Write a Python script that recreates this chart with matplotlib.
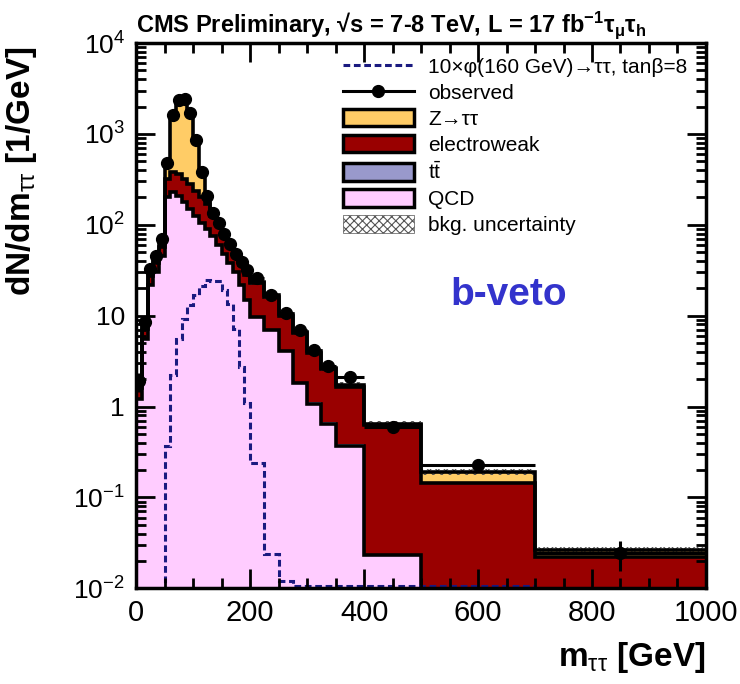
import numpy as np
import matplotlib
matplotlib.use("Agg")
import matplotlib.pyplot as plt
from matplotlib.patches import Patch
from matplotlib.lines import Line2D

plt.rcParams['font.family'] = ['Liberation Sans', 'DejaVu Sans']
plt.rcParams['mathtext.fontset'] = 'custom'
plt.rcParams['mathtext.rm'] = 'Liberation Sans'
plt.rcParams['mathtext.it'] = 'Liberation Sans:italic'
plt.rcParams['mathtext.bf'] = 'Liberation Sans:bold'
plt.rcParams['hatch.linewidth'] = 0.8

# ---------------- data ----------------
bin_edges = [0, 10, 20, 30, 40, 50, 60, 70, 80, 90, 100, 110, 120, 130, 140, 150,
             160, 170, 180, 190, 200, 225, 250, 275, 300, 325, 350, 400, 500, 700, 1000]

observed = [1.9, 8.5, 33, 45, 70, 480, 1600, 2350, 2400, 1700, 850, 380, 210, 135, 105,
            80, 62, 48, 39, 32, 26, 17, 10.6, 6.9, 4.2, 2.8, 2.1, 0.6, 0.23, 0.0245]
observed_err = [0.44, 0.92, 1.8, 2.1, 2.6, 6.9, 12.6, 15.3, 15.5, 13, 9.2, 6.2, 4.6, 3.7, 3.2,
                2.8, 2.5, 2.2, 2.0, 1.8, 1.0, 0.82, 0.65, 0.52, 0.41, 0.33, 0.2, 0.077, 0.034, 0.009]

qcd = [1.2, 5.5, 22, 30, 45, 200, 230, 210, 180, 150, 125, 105, 90, 75, 60,
       48, 38, 30, 22, 15, 9.6, 6.9, 4.1, 1.8, 1.07, 0.65, 0.37, 0.023, 0.0, 0.0]
ttbar = [0.01, 0.05, 0.2, 0.3, 0.5, 1.0, 1.5, 1.5, 1.5, 1.5, 1.4, 1.3, 1.2, 1.0, 0.8,
         0.7, 0.6, 0.5, 0.4, 0.35, 0.25, 0.18, 0.12, 0.08, 0.05, 0.03, 0.02, 0.0005, 0.0003, 0.0001]
electroweak = [0.4, 1.5, 5, 8, 12, 120, 150, 150, 140, 130, 110, 95, 80, 50, 38,
               28, 21, 16, 14, 13, 13, 9, 5.8, 4.6, 2.8, 1.9, 1.25, 0.6, 0.145, 0.022]
ztautau = [0.2, 1.0, 4, 6, 12, 150, 1200, 2000, 2100, 1400, 600, 180, 40, 12, 6,
           3, 2, 1.5, 1.2, 1.0, 0.8, 0.6, 0.3, 0.2, 0.12, 0.08, 0.1, 0.02, 0.045, 0.004]
bkg_rel_unc = [0.08] * 30

signal_10x = [0.005, 0.005, 0.005, 0.005, 0.005, 0.37, 2.2, 5.6, 9.3, 13, 17, 21, 24.5, 24, 24,
              19, 13.5, 7.2, 2.7, 1.1, 0.24, 0.024, 0.012, 0.0105, 0.0105, 0.0105, 0.0105,
              0.0105, 0.0105, 0.005]

# ---------------- plot ----------------
edges = np.array(bin_edges, float)
centers = 0.5 * (edges[1:] + edges[:-1])
halfw = 0.5 * (edges[1:] - edges[:-1])
floor = 1e-4

c1 = np.maximum(np.array(qcd), floor)
c2 = c1 + np.array(ttbar)
c3 = c2 + np.array(electroweak)
c4 = c3 + np.array(ztautau)

col_qcd = '#ffccff'
col_tt = '#9999cc'
col_ew = '#990000'
col_z = '#ffcc66'

fig = plt.figure(figsize=(7.4, 6.84), dpi=100)
ax = fig.add_axes([0.184, 0.140, 0.770, 0.797])
ax.set_yscale('log')

ax.stairs(c1, edges, baseline=floor, fill=True, color=col_qcd, lw=0)
ax.stairs(c2, edges, baseline=c1, fill=True, color=col_tt, lw=0)
ax.stairs(c3, edges, baseline=c2, fill=True, color=col_ew, lw=0)
ax.stairs(c4, edges, baseline=c3, fill=True, color=col_z, lw=0)
unc = np.array(bkg_rel_unc)
ax.stairs(c4 * (1 + unc), edges, baseline=c4 * (1 - unc), fill=True,
          facecolor='none', edgecolor='#555555', hatch='xxxx', lw=0)
for c in (c1, c3, c4):
    ax.stairs(c, edges, baseline=None, color='black', lw=2.6)

ax.stairs(signal_10x, edges, baseline=None, color='#1a1a80', lw=2.2, ls=(0, (2.2, 1.2)))

ax.errorbar(centers, observed, yerr=observed_err, xerr=halfw, fmt='o', color='black',
            ms=8.5, elinewidth=2.2, capsize=0, zorder=5)

ax.set_xlim(0, 1000)
ax.set_ylim(1e-2, 1e4)
ax.set_xticks([0, 200, 400, 600, 800, 1000])
ax.set_xticks(np.arange(0, 1001, 50), minor=True)
ax.set_yticks([1e-2, 1e-1, 1, 10, 1e2, 1e3, 1e4])
ax.set_yticklabels(['$10^{-2}$', '$10^{-1}$', '1', '10', '$10^{2}$', '$10^{3}$', '$10^{4}$'])
ax.tick_params(axis='both', which='both', direction='in', top=True, right=True, width=2)
ax.tick_params(axis='both', which='major', length=14)
ax.tick_params(axis='both', which='minor', length=7)
ax.tick_params(axis='x', labelsize=21, pad=8)
ax.tick_params(axis='y', labelsize=19, pad=8)
for s in ax.spines.values():
    s.set_linewidth(2.5)

ax.set_ylabel('dN/dm$_{\\mathrm{ττ}}$ [1/GeV]', fontsize=24, fontweight='bold')
ax.yaxis.set_label_coords(-0.17, 0.765)
ax.set_xlabel('m$_{\\mathrm{ττ}}$ [GeV]', fontsize=24, fontweight='bold')
ax.xaxis.set_label_coords(1.0, -0.095)
ax.xaxis.label.set_horizontalalignment('right')

fig.text(0.184, 0.963, 'CMS Preliminary, √s = 7-8 TeV, L = 17 fb$^{\\mathbf{-1}}$$\\mathbf{τ_{μ}τ_{h}}$',
         fontsize=17, fontweight='bold', va='center', ha='left')

ax.text(0.653, 0.538, 'b-veto', transform=ax.transAxes, fontsize=28, fontweight='bold',
        color='#3333cc', ha='center', va='center')

handles = [
    Line2D([], [], color='#1a1a80', lw=2.2, ls=(0, (2.2, 1.2))),
    Line2D([], [], color='black', lw=2.2, marker='o', ms=8.5),
    Patch(facecolor=col_z, edgecolor='black', lw=2.5),
    Patch(facecolor=col_ew, edgecolor='black', lw=2.5),
    Patch(facecolor=col_tt, edgecolor='black', lw=2.5),
    Patch(facecolor=col_qcd, edgecolor='black', lw=2.5),
    Patch(facecolor='white', edgecolor='#555555', hatch='xxxx', lw=0.5),
]
labels = ['10×φ(160 GeV)→ττ, tanβ=8', 'observed', 'Z→ττ', 'electroweak', 't$\\bar{\\mathrm{t}}$',
          'QCD', 'bkg. uncertainty']
ax.legend(handles, labels, loc='upper left', bbox_to_anchor=(0.348, 0.99), frameon=False,
          fontsize=15, handlelength=3.4, handleheight=0.9, labelspacing=0.3,
          handletextpad=0.7, borderaxespad=0)

fig.savefig('out.png', dpi=100)
